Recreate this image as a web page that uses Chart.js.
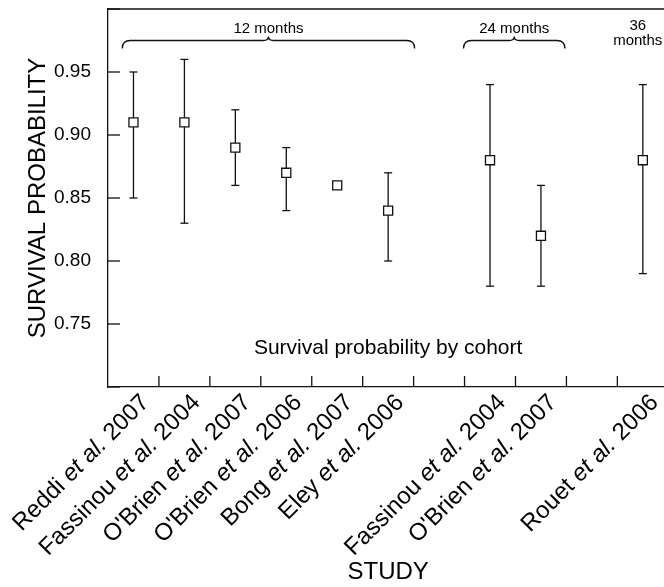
<!DOCTYPE html>
<html>
<head>
<meta charset="utf-8">
<title>Survival probability by cohort</title>
<script src="https://cdn.jsdelivr.net/npm/chart.js@4.4.1/dist/chart.umd.min.js"></script>
<style>
    html, body { margin: 0; padding: 0; background: #fff; overflow: hidden; }
    #wrap { width: 676px; height: 587px; }
</style>
</head>
<body>
<div id="wrap"><canvas id="chart_survival" width="676" height="587"></canvas></div>
<script>
// one slot per study, empty slots separate the follow-up groups
var studies = ['Reddi', 'Fassinou', "O'Brien", "O'Brien", 'Bong', 'Eley', '', 'Fassinou', "O'Brien", '', 'Rouet'];
var years = ['2007', '2004', '2007', '2006', '2007', '2006', '', '2004', '2007', '', '2006'];
var survival = [0.91, 0.91, 0.89, 0.87, 0.86, 0.84, null, 0.88, 0.82, null, 0.88];
var lowerCI = [0.85, 0.83, 0.86, 0.84, null, 0.80, null, 0.78, 0.78, null, 0.79];
var upperCI = [0.95, 0.96, 0.92, 0.89, null, 0.87, null, 0.94, 0.86, null, 0.94];
var yTicks = [0.70, 0.75, 0.80, 0.85, 0.90, 0.95, 1.00];

// follow-up groups: label and the span of slots under the brace
var cohortNames = ['12 months', '24 months', '36\nmonths'];
var cohortFrom = [-0.22, 6.48, null];
var cohortTo = [5.52, 8.47, null];
var cohortCenter = [null, null, 9.9];
var cohortLevel = 0.975;
var caption = 'Survival probability by cohort';

var INK = '#111';
var FONT = '"Liberation Sans", Arial, Helvetica, sans-serif';

var labels = studies.map(function (s, i) {
    return s ? s + ' et al. ' + years[i] : '';
});

function strokeLine(ctx, x0, y0, x1, y1) {
    ctx.beginPath();
    ctx.moveTo(x0, y0);
    ctx.lineTo(x1, y1);
    ctx.stroke();
}

function drawBrace(ctx, x0, x1, yLine) {
    var r = 8, peak = 4, mid = (x0 + x1) / 2;
    ctx.beginPath();
    ctx.moveTo(x0, yLine + r);
    ctx.quadraticCurveTo(x0, yLine, x0 + r, yLine);
    ctx.lineTo(mid - 5, yLine);
    ctx.quadraticCurveTo(mid, yLine, mid, yLine - peak);
    ctx.quadraticCurveTo(mid, yLine, mid + 5, yLine);
    ctx.lineTo(x1 - r, yLine);
    ctx.quadraticCurveTo(x1, yLine, x1, yLine + r);
    ctx.stroke();
}

var survivalDecor = {
    id: 'survivalDecor',
    beforeDatasetsDraw: function (chart) {
        var ctx = chart.ctx, xs = chart.scales.x, ys = chart.scales.y, area = chart.chartArea;
        ctx.save();
        ctx.strokeStyle = INK;
        ctx.lineWidth = 1.3;

        // frame top
        strokeLine(ctx, area.left, area.top, area.right, area.top);

        // inward tick marks
        yTicks.forEach(function (v) {
            var py = ys.getPixelForValue(v);
            strokeLine(ctx, area.left, py, area.left + 12, py);
        });
        for (var i = 0; i < labels.length - 1; i++) {
            var px = xs.getPixelForValue(i + 0.5);
            strokeLine(ctx, px, area.bottom, px, area.bottom - 11);
        }

        // confidence intervals
        survival.forEach(function (v, i) {
            if (lowerCI[i] === null || upperCI[i] === null) return;
            var px = xs.getPixelForValue(i);
            var lo = ys.getPixelForValue(lowerCI[i]);
            var hi = ys.getPixelForValue(upperCI[i]);
            strokeLine(ctx, px, lo, px, hi);
            strokeLine(ctx, px - 4, lo, px + 4, lo);
            strokeLine(ctx, px - 4, hi, px + 4, hi);
        });
        ctx.restore();
    },
    afterDraw: function (chart) {
        var ctx = chart.ctx, xs = chart.scales.x, ys = chart.scales.y, area = chart.chartArea;
        ctx.save();
        ctx.fillStyle = '#000';
        ctx.strokeStyle = INK;
        ctx.lineWidth = 1.3;

        // study names, rotated, with italic "et al."
        studies.forEach(function (s, i) {
            if (!s) return;
            var parts = [[s + ' ', 'normal'], ['et al.', 'italic'], [' ' + years[i], 'normal']];
            var widths = parts.map(function (p) {
                ctx.font = p[1] + ' 24px ' + FONT;
                return ctx.measureText(p[0]).width;
            });
            var total = widths.reduce(function (a, b) { return a + b; }, 0);
            ctx.save();
            ctx.translate(xs.getPixelForValue(i) + 12, area.bottom + 12);
            ctx.rotate(-Math.PI / 4);
            ctx.textBaseline = 'middle';
            ctx.textAlign = 'left';
            var cx = -total;
            parts.forEach(function (p, k) {
                ctx.font = p[1] + ' 24px ' + FONT;
                ctx.fillText(p[0], cx, 0);
                cx += widths[k];
            });
            ctx.restore();
        });

        // follow-up braces
        var yLine = ys.getPixelForValue(cohortLevel);
        ctx.font = '15px ' + FONT;
        ctx.textAlign = 'center';
        ctx.textBaseline = 'alphabetic';
        cohortNames.forEach(function (name, i) {
            if (cohortFrom[i] !== null) {
                var x0 = xs.getPixelForValue(cohortFrom[i]);
                var x1 = xs.getPixelForValue(cohortTo[i]);
                drawBrace(ctx, x0, x1, yLine);
                ctx.fillText(name, (x0 + x1) / 2, yLine - 8);
            } else {
                var lines = name.split('\n');
                var cx = xs.getPixelForValue(cohortCenter[i]);
                lines.forEach(function (ln, k) {
                    ctx.fillText(ln, cx, yLine - 11 + k * 15);
                });
            }
        });

        // caption inside the plot
        ctx.font = '21px ' + FONT;
        ctx.textBaseline = 'middle';
        ctx.fillText(caption, xs.getPixelForValue(5), ys.getPixelForValue(0.731));
        ctx.restore();
    }
};

var survivalChart = new Chart(document.getElementById('chart_survival'), {
    type: 'line',
    data: {
        labels: labels,
        datasets: [{
            label: 'Survival probability',
            data: survival,
            showLine: false,
            pointStyle: 'rect',
            pointRadius: 6.4,
            pointBorderWidth: 1.3,
            pointBackgroundColor: '#fff',
            pointBorderColor: INK
        }]
    },
    options: {
        responsive: false,
        animation: false,
        events: [],
        layout: { padding: { top: 9, right: 6, bottom: 0, left: 0 } },
        plugins: {
            legend: { display: false },
            tooltip: { enabled: false }
        },
        scales: {
            x: {
                type: 'category',
                offset: true,
                grid: { display: false, drawTicks: false },
                border: { display: true, color: INK, width: 1.3 },
                ticks: { display: false },
                title: {
                    display: true,
                    text: 'STUDY',
                    color: '#000',
                    font: { family: FONT, size: 24 },
                    padding: { top: 0, bottom: 0 }
                },
                afterFit: function (scale) { scale.height = 200; }
            },
            y: {
                min: 0.70,
                max: 1.00,
                grid: { display: false, drawTicks: false },
                border: { display: true, color: INK, width: 1.3 },
                ticks: {
                    stepSize: 0.05,
                    padding: 17,
                    color: '#000',
                    font: { family: FONT, size: 19 },
                    callback: function (v) {
                        return (v > 0.72 && v < 0.98) ? v.toFixed(2) : '';
                    }
                },
                title: {
                    display: true,
                    text: 'SURVIVAL PROBABILITY',
                    color: '#000',
                    font: { family: FONT, size: 24 },
                    padding: { top: 24, bottom: 0 }
                },
                afterFit: function (scale) {
                    scale.width = 108;
                    scale.paddingTop = 0;
                    scale.paddingBottom = 0;
                }
            }
        }
    },
    plugins: [survivalDecor]
});
</script>
</body>
</html>
